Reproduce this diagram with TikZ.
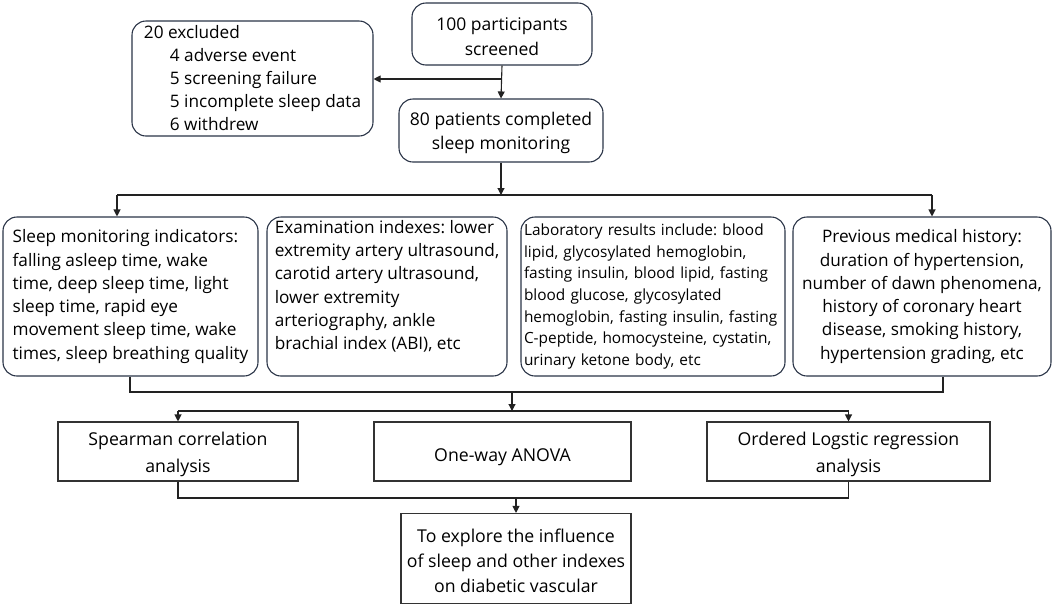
\documentclass[tikz,border=0pt]{standalone}
\usepackage{fontspec}
\setmainfont{Open Sans}
\usetikzlibrary{arrows.meta,positioning}
\definecolor{bordercol}{HTML}{2A3447}
\definecolor{rectcol}{HTML}{333333}
\definecolor{linecol}{HTML}{222222}
\newcommand\highstrut[1]{\rule{0pt}{#1pt}}
\frenchspacing
\begin{document}
\begin{tikzpicture}[x=1pt,y=-1pt,
  rbox/.style={draw=bordercol, rounded corners=14pt, line width=1.1pt, inner sep=0pt},
  sbox/.style={draw=rectcol, line width=1.1pt, inner sep=0pt, align=center,
    font=\fontsize{17.7}{27}\selectfont},
  conn/.style={draw=linecol, line width=1.1pt},
  arr/.style={conn, -{Triangle[length=7pt,width=7pt]}},
  txt/.style={font=\fontsize{17.2}{23.3}\selectfont}
]
\useasboundingbox (0,0) rectangle (1056,606);

% top
\node[rbox, font=\fontsize{17.5}{25}\selectfont, align=center,
  minimum width=180, minimum height=62] (n100) at (502,34)
  {\highstrut{19}100 participants\\screened};
\node[rbox, font=\fontsize{17.2}{23}\selectfont, align=left,
  minimum width=241, minimum height=115] (exc) at (252.5,78.5)
  {20 excluded\\
   \hspace*{26pt}4 adverse event\\
   \hspace*{26pt}5 screening failure\\
   \hspace*{26pt}5 incomplete sleep data\\
   \hspace*{26pt}6 withdrew};
\node[rbox, font=\fontsize{17.5}{24}\selectfont, align=center,
  minimum width=204, minimum height=63] (n80) at (501,130.5)
  {\highstrut{19}80 patients completed\\sleep monitoring};

\coordinate (j1) at (502,79);
\draw[arr] (n100.south) -- (n80.north);
\draw[arr] (j1) -- (exc.east |- j1);

% four boxes
\node[rbox, txt, align=left, minimum width=255,
  minimum height=159] (b1) at (130.5,296.5)
  {Sleep monitoring indicators:\\
   falling asleep time, wake\\
   time, deep sleep time, light\\
   sleep time, rapid eye\\
   movement sleep time, wake\\
   times, sleep breathing quality};
\node[rbox, txt, align=left, minimum width=240,
  minimum height=159] (b2) at (387,296.5)
  {Examination indexes: lower\\
   extremity artery ultrasound,\\
   carotid artery ultrasound,\\
   lower extremity\\
   arteriography, ankle\\
   brachial index (ABI), etc\\ \mbox{}};
\node[rbox, font=\fontsize{15.4}{21.6}\selectfont, align=left, text width=258,
  inner xsep=3, minimum height=159] (b3) at (653,296.5)
  {Laboratory results include: blood\\
   lipid, glycosylated hemoglobin,\\
   fasting insulin, blood lipid, fasting\\
   blood glucose, glycosylated\\
   hemoglobin, fasting insulin, fasting\\
   C-peptide, homocysteine, cystatin,\\
   urinary ketone body, etc};
\node[rbox, txt, align=center, minimum width=258,
  minimum height=159] (b4) at (922,296.5)
  {Previous medical history:\\
   duration of hypertension,\\
   number of dawn phenomena,\\
   history of coronary heart\\
   disease, smoking history,\\
   hypertension grading, etc};

\coordinate (j2) at (501,195);
\coordinate (l2) at (117,195);
\coordinate (r2) at (932,195);
\draw[arr] (n80.south) -- (j2);
\draw[conn] (l2) -- (r2);
\draw[arr] (l2) -- (b1.north -| l2);
\draw[arr] (r2) -- (b4.north -| r2);

% analysis boxes
\node[sbox, minimum width=240, minimum height=59] (sA) at (178,451.5)
  {\highstrut{19}Spearman correlation\\analysis};
\node[sbox, minimum width=257, minimum height=59] (sB) at (502.5,451.5)
  {\highstrut{24}One-way ANOVA};
\node[sbox, minimum width=283, minimum height=59] (sC) at (848.5,451.5)
  {\highstrut{19}Ordered Logstic regression\\analysis};

\coordinate (c1) at (130,392);
\coordinate (c4) at (943,392);
\coordinate (m3) at (512,392);
\coordinate (m4) at (512,411);
\draw[conn] (b1.south -| c1) -- (c1) -- (c4) -- (b4.south -| c4);
\draw[arr] (m3) -- (m4);
\coordinate (la) at (178,411);
\coordinate (lc) at (848.5,411);
\draw[conn] (la) -- (lc);
\draw[arr] (la) -- (sA.north);
\draw[arr] (lc) -- (sC.north);

% final
\node[sbox, font=\fontsize{17.7}{25}\selectfont, minimum width=230, minimum height=90] (fin) at (516,558.5)
  {\highstrut{18}To explore the influence\\of sleep and other indexes\\on diabetic vascular};
\coordinate (fa) at (178,498);
\coordinate (fc) at (848.5,498);
\coordinate (fm) at (516,498);
\draw[conn] (sA.south) -- (fa) -- (fc) -- (sC.south);
\draw[arr] (fm) -- (fin.north);
\end{tikzpicture}
\end{document}
